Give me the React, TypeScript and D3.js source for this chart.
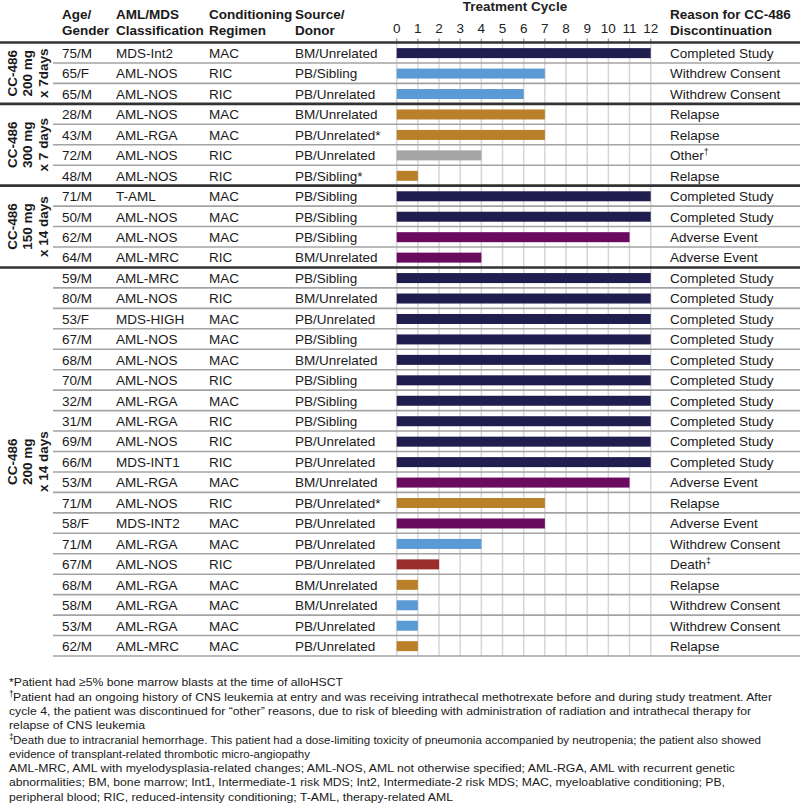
import React from "react";
import * as d3 from "d3";

const groupLabels: string[][] = [
  ["CC-486", "200 mg", "x 7days"],
  ["CC-486", "300 mg", "x 7 days"],
  ["CC-486", "150 mg", "x 14 days"],
  ["CC-486", "200 mg", "x 14 days"],
];
const groupOf: number[] = [0,0,0, 1,1,1,1, 2,2,2,2, 3,3,3,3,3,3,3,3,3,3,3,3,3,3,3,3,3,3,3];
const ageGender: string[] = [
  "75/M","65/F","65/M",
  "28/M","43/M","72/M","48/M",
  "71/M","50/M","62/M","64/M",
  "59/M","80/M","53/F","67/M","68/M","70/M","32/M","31/M","69/M","66/M","53/M","71/M","58/F","71/M","67/M","68/M","58/M","53/M","62/M",
];
const classification: string[] = [
  "MDS-Int2","AML-NOS","AML-NOS",
  "AML-NOS","AML-RGA","AML-NOS","AML-NOS",
  "T-AML","AML-NOS","AML-NOS","AML-MRC",
  "AML-MRC","AML-NOS","MDS-HIGH","AML-NOS","AML-NOS","AML-NOS","AML-RGA","AML-RGA","AML-NOS","MDS-INT1","AML-RGA","AML-NOS","MDS-INT2","AML-RGA","AML-NOS","AML-RGA","AML-RGA","AML-RGA","AML-MRC",
];
const regimen: string[] = [
  "MAC","RIC","RIC",
  "MAC","MAC","RIC","RIC",
  "MAC","MAC","MAC","RIC",
  "MAC","RIC","MAC","MAC","MAC","RIC","MAC","RIC","RIC","RIC","MAC","RIC","MAC","MAC","RIC","MAC","MAC","MAC","MAC",
];
const donor: string[] = [
  "BM/Unrelated","PB/Sibling","PB/Unrelated",
  "BM/Unrelated","PB/Unrelated*","PB/Unrelated","PB/Sibling*",
  "PB/Sibling","PB/Sibling","PB/Sibling","BM/Unrelated",
  "PB/Sibling","BM/Unrelated","PB/Unrelated","PB/Sibling","BM/Unrelated","PB/Sibling","PB/Sibling","PB/Sibling","PB/Unrelated","PB/Unrelated","BM/Unrelated","PB/Unrelated*","PB/Unrelated","PB/Unrelated","PB/Unrelated","BM/Unrelated","BM/Unrelated","PB/Unrelated","PB/Unrelated",
];
const cycles: number[] = [
  12,7,6,
  7,7,4,1,
  12,12,11,4,
  12,12,12,12,12,12,12,12,12,12,11,7,7,4,2,1,1,1,1,
];
const reason: string[] = [
  "Completed Study","Withdrew Consent","Withdrew Consent",
  "Relapse","Relapse","Other","Relapse",
  "Completed Study","Completed Study","Adverse Event","Adverse Event",
  "Completed Study","Completed Study","Completed Study","Completed Study","Completed Study","Completed Study","Completed Study","Completed Study","Completed Study","Completed Study","Adverse Event","Relapse","Adverse Event","Withdrew Consent","Death","Relapse","Withdrew Consent","Withdrew Consent","Relapse",
];
const reasonMark: Record<string, string> = { Other: "\u2020", Death: "\u2021" };
const reasonColors: Record<string, string> = {
  "Completed Study": "#201e4e",
  "Withdrew Consent": "#5b9bd5",
  Relapse: "#b98029",
  Other: "#a5a5a5",
  "Adverse Event": "#6b0b5f",
  Death: "#9b2d2d",
};
const cycleTicks: number[] = [0,1,2,3,4,5,6,7,8,9,10,11,12];
const headers: { lines: string[]; x: number }[] = [
  { lines: ["Age/", "Gender"], x: 62 },
  { lines: ["AML/MDS", "Classification"], x: 116 },
  { lines: ["Conditioning", "Regimen"], x: 209 },
  { lines: ["Source/", "Donor"], x: 295 },
  { lines: ["Reason for CC-486", "Discontinuation"], x: 670 },
];
const footnotes: { mark: string; text: string; w: number }[] = [
  { mark: "", text: "*Patient had \u22655% bone marrow blasts at the time of alloHSCT", w: 334 },
  { mark: "\u2020", text: "Patient had an ongoing history of CNS leukemia at entry and was receiving intrathecal methotrexate before and during study treatment. After", w: 759 },
  { mark: "", text: "cycle 4, the patient was discontinued for \u201cother\u201d reasons, due to risk of bleeding with administration of radiation and intrathecal therapy for", w: 742 },
  { mark: "", text: "relapse of CNS leukemia", w: 136 },
  { mark: "\u2021", text: "Death due to intracranial hemorrhage. This patient had a dose-limiting toxicity of pneumonia accompanied by neutropenia; the patient also showed", w: 748 },
  { mark: "", text: "evidence of transplant-related thrombotic micro-angiopathy", w: 301 },
  { mark: "", text: "AML-MRC, AML with myelodysplasia-related changes; AML-NOS, AML not otherwise specified; AML-RGA, AML with recurrent genetic", w: 726 },
  { mark: "", text: "abnormalities; BM, bone marrow; Int1, Intermediate-1 risk MDS; Int2, Intermediate-2 risk MDS; MAC, myeloablative conditioning; PB,", w: 716 },
  { mark: "", text: "peripheral blood; RIC, reduced-intensity conditioning; T-AML, therapy-related AML", w: 444 },
];

const W = 800;
const H = 805;
const FONT = "'Liberation Sans', Arial, Helvetica, sans-serif";

export default function App() {
  const n = ageGender.length;
  const x = d3.scaleLinear().domain([0, 12]).range([396.7, 650.7]);
  const y = d3.scaleBand<number>().domain(d3.range(n)).range([42.5, 656]).paddingInner(0).paddingOuter(0);
  const bw = y.bandwidth();
  const cy = (i: number) => (y(i) as number) + bw / 2;

  const groups = d3.groups(d3.range(n), (i) => groupOf[i]).map(([g, idx]) => ({
    g,
    start: idx[0],
    end: idx[idx.length - 1],
  }));

  const cols: { vals: string[]; x: number }[] = [
    { vals: ageGender, x: 62 },
    { vals: classification, x: 116 },
    { vals: regimen, x: 209 },
    { vals: donor, x: 295 },
  ];

  return (
    <svg
      width={W}
      height={H}
      style={{ position: "absolute", left: 0, top: 0, background: "#fff" }}
      fontFamily={FONT}
    >
      <rect x={0} y={0} width={W} height={H} fill="#fff" />
      {/* vertical gridlines */}
      {cycleTicks.map((t) => (
        <line key={"g" + t} x1={x(t)} x2={x(t)} y1={39} y2={656} stroke="#d6d6d6" strokeWidth={1.5} />
      ))}
      {cycleTicks.map((t) => (
        <line key={"tk" + t} x1={x(t)} x2={x(t)} y1={38.5} y2={42} stroke="#888" strokeWidth={1} />
      ))}
      {/* row separators */}
      {d3.range(1, n + 1).map((i) => {
        const yy = i === n ? 656 : (y(i) as number);
        const isGroup = i < n && groupOf[i] !== groupOf[i - 1];
        if (isGroup) return null;
        return <line key={"r" + i} x1={53} x2={W} y1={yy} y2={yy} stroke="#a3a3a3" strokeWidth={1.6} />;
      })}
      {/* group separators */}
      {[42.5, ...groups.slice(1).map((g) => y(g.start) as number)].map((yy, k) => (
        <line key={"gs" + k} x1={0} x2={W} y1={yy} y2={yy} stroke="#333" strokeWidth={2.6} />
      ))}
      {/* bars */}
      {cycles.map((c, i) => (
        <rect
          key={"b" + i}
          x={x(0)}
          y={cy(i) - 4.6}
          width={x(c) - x(0)}
          height={10}
          fill={reasonColors[reason[i]]}
        />
      ))}
      {/* header */}
      <text x={515} y={10.5} fontSize={13.5} fontWeight="bold" textAnchor="middle" fill="#222">
        Treatment Cycle
      </text>
      {cycleTicks.map((t) => (
        <text key={"tl" + t} x={x(t)} y={32.5} fontSize={13.5} textAnchor="middle" fill="#222">
          {t}
        </text>
      ))}
      {headers.map((h, k) => (
        <text key={"h" + k} fontSize={13.5} fontWeight="bold" fill="#1a1a1a">
          <tspan x={h.x} y={18.7}>{h.lines[0]}</tspan>
          <tspan x={h.x} y={35}>{h.lines[1]}</tspan>
        </text>
      ))}
      {/* group labels */}
      {groups.map((g) => {
        const mid = ((y(g.start) as number) + (y(g.end) as number) + bw) / 2;
        return (
          <g key={"gl" + g.g} transform={`translate(0,${mid}) rotate(-90)`}>
            {groupLabels[g.g].map((s, k) => (
              <text key={k} x={0} y={16.8 + k * 15.5} fontSize={13.5} fontWeight="bold" textAnchor="middle" fill="#1a1a1a">
                {s}
              </text>
            ))}
          </g>
        );
      })}
      {/* table cells */}
      {cols.map((col, ci) =>
        col.vals.map((v, i) => (
          <text key={"c" + ci + "-" + i} x={col.x} y={cy(i) + 5.2} fontSize={13.5} fill="#1a1a1a">
            {v}
          </text>
        ))
      )}
      {reason.map((r, i) => (
        <text key={"rs" + i} x={670} y={cy(i) + 5.2} fontSize={13.5} fill="#1a1a1a">
          {r}
          {reasonMark[r] ? (
            <tspan fontSize={9} dy={-5}>{reasonMark[r]}</tspan>
          ) : null}
        </text>
      ))}
      {/* footnotes */}
      {footnotes.map((f, k) => {
        const by = 686.3 + k * 14.3;
        return (
          <g key={"f" + k}>
            {f.mark ? (
              <text x={9} y={by - 4} fontSize={8.5} fill="#1a1a1a">{f.mark}</text>
            ) : null}
            <text x={f.mark ? 13 : 9} y={by} fontSize={11.8} fill="#1a1a1a" textLength={f.w} lengthAdjust="spacingAndGlyphs">
              {f.text}
            </text>
          </g>
        );
      })}
    </svg>
  );
}
